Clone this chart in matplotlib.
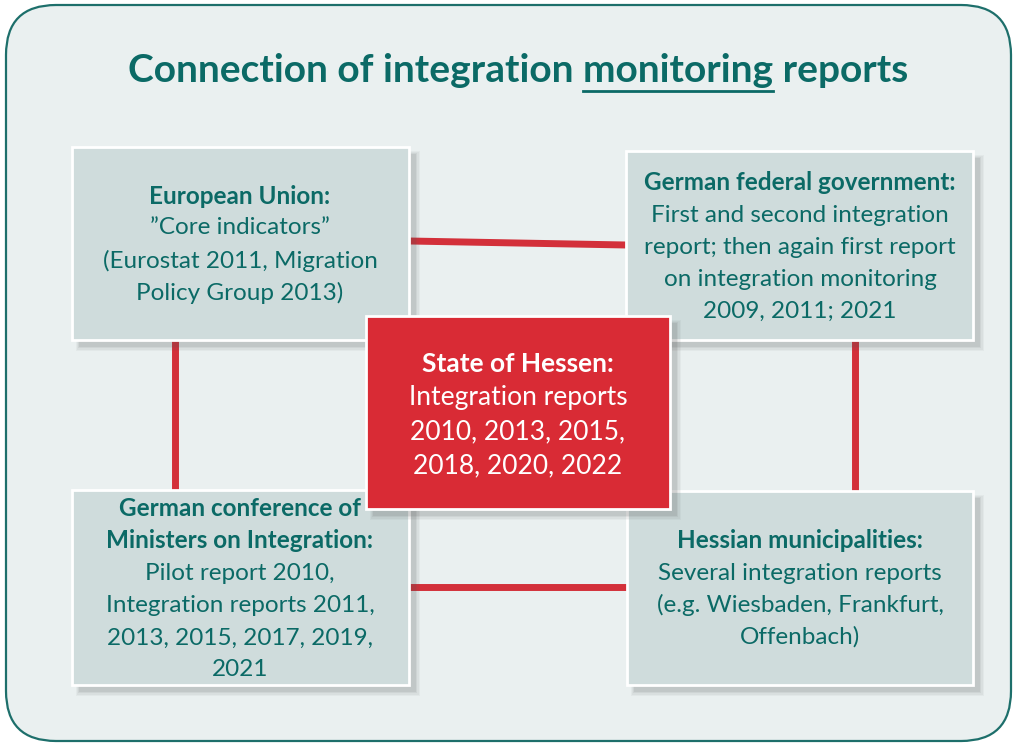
import matplotlib
matplotlib.use("Agg")
import matplotlib.pyplot as plt
from matplotlib.patches import FancyBboxPatch, Rectangle

plt.rcParams['font.family'] = ['Lato', 'DejaVu Sans']

W, H = 1017, 746
TEAL = "#0b6a66"
RED = "#d92b35"
BOX = "#cfdcdc"

title_pre = "Connection of integration "
title_ul = "monitoring"
title_post = " reports"

# box texts: (lines, number of bold lines leading)
eu_lines = ["European Union:", "\u201dCore indicators\u201d", "(Eurostat 2011, Migration", "Policy Group 2013)"]
fed_lines = ["German federal government:", "First and second integration", "report; then again first report",
             "on integration monitoring", "2009, 2011; 2021"]
hes_lines = ["State of Hessen:", "Integration reports", "2010, 2013, 2015,", "2018, 2020, 2022"]
conf_lines = ["German conference of", "Ministers on Integration:", "Pilot report 2010,",
              "Integration reports 2011,", "2013, 2015, 2017, 2019,", "2021"]
mun_lines = ["Hessian municipalities:", "Several integration reports", "(e.g. Wiesbaden, Frankfurt,", "Offenbach)"]

fig = plt.figure(figsize=(W / 100, H / 100), dpi=100)
ax = fig.add_axes([0, 0, 1, 1])
ax.set_xlim(0, W)
ax.set_ylim(H, 0)
ax.axis("off")
fig.patch.set_facecolor("white")

# outer rounded frame
ax.add_patch(FancyBboxPatch((6, 5), W - 12, H - 10, boxstyle="round,pad=0,rounding_size=50",
                            fc="#eaf0f0", ec="#1d6f6b", lw=1.6, zorder=0))

# connector lines
lc = "#d3303a"
ax.plot([409, 626], [241, 245], color=lc, lw=5, solid_capstyle="butt", zorder=1)
ax.plot([409, 627], [587, 587], color=lc, lw=5, solid_capstyle="butt", zorder=1)
ax.plot([175, 175], [340, 490], color=lc, lw=5, solid_capstyle="butt", zorder=1)
ax.plot([855, 855], [340, 491], color=lc, lw=5, solid_capstyle="butt", zorder=1)


def box(x0, y0, x1, y1, fc, z):
    for i, a in enumerate([0.05, 0.06, 0.08, 0.10]):
        d = 7 - i * 1.5
        ax.add_patch(Rectangle((x0 + 4 + i, y0 + 4 + i), x1 - x0 + d - i, y1 - y0 + d - i,
                               fc="#555555", ec="none", alpha=a, zorder=z))
    ax.add_patch(Rectangle((x0, y0), x1 - x0, y1 - y0, fc=fc, ec="white", lw=2, zorder=z + 0.5))


def lines(cx, ys, texts, nbold, color, size, z):
    for i, (y, t) in enumerate(zip(ys, texts)):
        ax.text(cx, y, t, ha="center", va="center", fontsize=size, color=color,
                fontweight="bold" if i < nbold else "normal", zorder=z)


box(72, 147, 409, 340, BOX, 2)
lines(240, [196, 228, 261, 293], eu_lines, 1, TEAL, 17.5, 3)

box(626, 151, 973, 340, BOX, 2)
lines(800, [183, 215, 247, 279, 311], fed_lines, 1, TEAL, 17.5, 3)

box(72, 490, 409, 685, BOX, 2)
lines(240, [509, 541, 573, 606, 638, 669], conf_lines, 2, TEAL, 17.5, 3)

box(627, 491, 973, 685, BOX, 2)
lines(800, [541, 573, 605, 637], mun_lines, 1, TEAL, 17.5, 3)

box(366, 316, 670, 509, RED, 4)
lines(518, [364, 397, 432, 466], hes_lines, 1, "white", 19, 5)

# title with underlined word
tsize = 28
full = ax.text(518, 70, title_pre + title_ul + title_post, ha="center", va="center",
               fontsize=tsize, fontweight="bold", color=TEAL, zorder=3)
fig.canvas.draw()
r = fig.canvas.get_renderer()
inv = ax.transData.inverted()
bb = full.get_window_extent(r)
left = inv.transform((bb.x0, bb.y0))[0]
tmp = ax.text(0, 0, title_pre, fontsize=tsize, fontweight="bold")
w_pre = tmp.get_window_extent(r).width
tmp.set_text(title_ul)
w_ul = tmp.get_window_extent(r).width
tmp.remove()
x_a = left + w_pre
x_b = x_a + w_ul
ax.plot([x_a, x_b], [91, 91], color=TEAL, lw=2, zorder=3)

fig.savefig("out.png", dpi=100, facecolor="white")
